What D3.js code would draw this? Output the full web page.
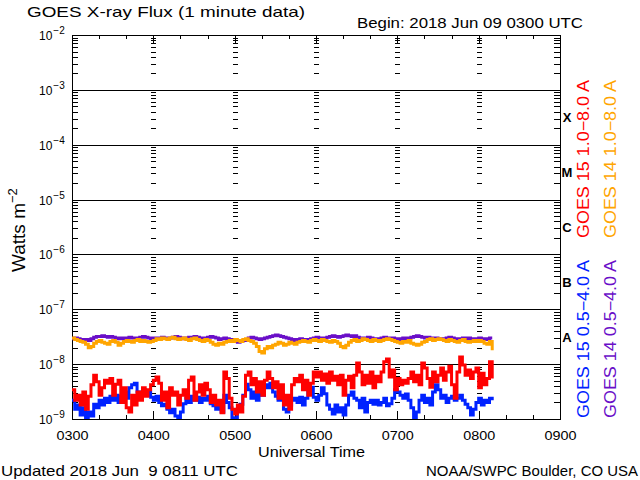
<!DOCTYPE html>
<html>
<head>
<meta charset="utf-8">
<script src="https://d3js.org/d3.v7.min.js"></script>
<style>
body { margin: 0; background: #fff; }
text { font-family: "Liberation Sans", sans-serif; fill: #000; }
</style>
</head>
<body>
<div id="chart"></div>
<script>
/* GOES X-ray flux, 1 minute data, 2018 Jun 09 */

// minutes after 0300 UTC (read every 2 minutes off the plot)
const minutes = d3.range(0, 312, 2);

// flux in units of 1e-9 W m^-2
const g15Long = [3.4, 2.2, 2.7, 1.8, 3.1, 1.5, 2.6, 4.2, 6.3, 4.8,
    2.7, 3.7, 5.1, 4.5, 5.5, 2.7, 4.3, 5.1, 2.0, 3.7,
    1.6, 1.34, 2.7, 1.8, 3.1, 2.2, 3.7, 2.6, 3.4, 4.2,
    5.1, 5.8, 4.5, 2.2, 3.1, 1.6, 3.7, 2.7, 3.1, 1.8,
    2.7, 3.4, 2.4, 5.1, 5.8, 2.2, 3.1, 4.2, 2.7, 4.5,
    3.4, 2.0, 2.7, 1.8, 2.2, 1.3, 7.2, 5.5, 2.4, 1.5,
    1.23, 1.8, 1.34, 2.6, 6.3, 7.2, 4.2, 5.5, 3.1, 4.8,
    2.7, 5.1, 7.2, 5.5, 3.7, 4.8, 2.4, 4.2, 1.8, 2.7,
    1.5, 4.2, 5.5, 4.8, 6.3, 3.4, 5.1, 2.7, 4.5, 7.2,
    5.8, 7.2, 5.1, 6.6, 4.5, 7.2, 5.1, 6.0, 4.2, 6.3,
    2.7, 5.1, 6.0, 3.7, 6.3, 10.5, 7.2, 4.2, 6.3, 4.5,
    7.2, 3.7, 6.0, 4.8, 7.2, 11, 12.4, 5.8, 7.8, 3.4,
    5.5, 4.2, 5.1, 4.5, 5.5, 7.2, 4.8, 6.3, 4.2, 10.5,
    8.5, 5.5, 3.8, 7.2, 4.8, 6.3, 8.5, 5.1, 7.2, 9.2,
    4.2, 2.4, 7.2, 13.5, 9.6, 6.3, 7.8, 5.5, 7.2, 8.5,
    3.7, 6.8, 4.2, 5.5, 11, 5.5];

const g15Short = [2.2, 1.5, 1.8, 1.18, 1.6, 1.05, 1.34, 1.13, 1.85, 1.6,
    2.2, 1.8, 2.4, 2.0, 2.6, 2.2, 2.7, 2.0, 2.6, 3.1,
    2.4, 3.7, 4.2, 4.5, 3.1, 2.6, 3.4, 2.7, 3.1, 2.5,
    2.2, 2.6, 2.0, 1.75, 1.85, 1.5, 1.3, 1.5, 1.13, 0.96,
    1.34, 1.9, 2.4, 2.0, 2.6, 2.2, 2.5, 2.0, 2.4, 2.2,
    2.6, 1.9, 1.75, 1.5, 1.8, 1.34, 2.7, 2.0, 1.6, 1.05,
    0.92, 1.5, 1.85, 2.7, 4.3, 3.4, 2.4, 3.1, 2.2, 3.4,
    2.7, 4.2, 3.7, 4.5, 3.1, 2.6, 2.2, 2.4, 1.5, 1.34,
    1.8, 2.2, 2.4, 2.0, 2.5, 1.8, 2.4, 3.4, 3.8, 2.5,
    2.2, 2.7, 3.7, 2.9, 1.8, 1.5, 1.23, 1.8, 1.34, 1.6,
    1.18, 1.8, 2.7, 3.1, 2.4, 2.2, 1.6, 2.4, 1.34, 2.0,
    2.2, 1.85, 2.2, 1.8, 2.0, 2.4, 1.75, 1.9, 2.4, 3.4,
    3.1, 2.7, 2.4, 2.85, 2.2, 1.6, 1.05, 1.34, 2.2, 2.7,
    2.0, 2.4, 1.8, 3.1, 4.2, 3.4, 2.4, 2.7, 2.0, 2.4,
    2.6, 2.2, 2.4, 2.7, 2.2, 1.85, 1.6, 1.18, 1.5, 2.0,
    2.4, 1.8, 2.2, 2.0, 2.4, 2.2];

const g14Long = [30, 28, 27, 26, 25, 23, 20, 21, 24, 26,
    27, 25, 24, 23, 26, 27, 25, 22, 24, 26,
    27, 26, 25, 27, 28, 26, 27, 26, 25, 26,
    27, 29, 28, 30, 29, 28, 30, 31, 29, 28,
    29, 30, 28, 27, 29, 30, 28, 27, 26, 28,
    27, 25, 23, 22, 24, 23, 25, 26, 27, 26,
    28, 27, 26, 28, 29, 27, 26, 24, 21, 17,
    16, 19, 21, 20, 22, 23, 25, 24, 22, 23,
    25, 24, 23, 25, 26, 27, 26, 25, 27, 28,
    27, 26, 28, 27, 26, 25, 27, 26, 24, 21,
    20, 22, 25, 27, 28, 26, 27, 29, 28, 27,
    26, 28, 27, 26, 27, 28, 29, 28, 27, 26,
    25, 24, 26, 25, 27, 24, 23, 22, 23, 25,
    26, 28, 29, 27, 28, 29, 28, 27, 26, 28,
    27, 26, 25, 27, 28, 26, 25, 26, 27, 26,
    27, 26, 24, 23, 26, 18];

const g14Short = [29, 30, 29, 28, 27, 28, 27, 29, 31, 32,
    32, 33, 32, 31, 32, 31, 30, 29, 30, 29,
    30, 31, 30, 29, 30, 31, 32, 31, 30, 29,
    30, 29, 30, 31, 30, 29, 30, 31, 32, 31,
    30, 29, 30, 31, 30, 32, 31, 30, 29, 30,
    31, 32, 31, 30, 28, 29, 30, 29, 28, 27,
    26, 25, 26, 27, 28, 30, 31, 30, 29, 28,
    29, 30, 31, 32, 33, 34, 33, 32, 31, 30,
    29, 28, 27, 28, 29, 28, 27, 28, 29, 30,
    31, 30, 29, 30, 31, 32, 33, 32, 31, 32,
    33, 34, 33, 32, 33, 31, 30, 29, 30, 31,
    30, 29, 28, 29, 30, 31, 30, 29, 30, 29,
    28, 29, 30, 29, 30, 31, 32, 33, 32, 31,
    30, 31, 30, 29, 30, 29, 28, 29, 30, 31,
    30, 29, 28, 29, 30, 29, 30, 29, 28, 29,
    30, 29, 28, 29, 30, 30];

const decades = [-9, -8, -7, -6, -5, -4, -3, -2];
const flareClasses = ["A", "B", "C", "M", "X"]; // 1e-8 .. 1e-4

const width = 640, height = 480,
    margin = ({top: 35, right: 80, bottom: 61, left: 72});

const t0 = Date.UTC(2018, 5, 9, 3, 0);

let svg = d3.select("#chart")
    .append("svg")
    .attr("width", width)
    .attr("height", height)
    .attr("viewBox", [0, 0, width, height]);

let x = d3.scaleUtc()
    .domain([new Date(t0), new Date(Date.UTC(2018, 5, 9, 9, 0))])
    .range([margin.left, width - margin.right]);

let y = d3.scaleLog()
    .domain([1e-9, 1e-2])
    .range([height - margin.bottom, margin.top]);

// minor log ticks 2..9 in each decade
let minorVals = [];
for (let e = -9; e < -2; e++) {
    for (let m = 2; m <= 9; m++) minorVals.push(m * Math.pow(10, e));
}

const axisStyle = g => g
    .attr("shape-rendering", "crispEdges")
    .call(g => g.selectAll("line").attr("stroke", "#000"))
    .call(g => g.select(".domain").attr("stroke", "#000"));

// decade grid lines
svg.append("g")
    .attr("transform", `translate(${margin.left},0)`)
    .call(d3.axisLeft(y).tickValues(decades.slice(1, -1).map(e => Math.pow(10, e)))
        .tickSize(-(width - margin.left - margin.right)).tickFormat(""))
    .call(g => g.select(".domain").remove())
    .call(axisStyle);

// left / right axes with inward minor ticks
svg.append("g")
    .attr("transform", `translate(${margin.left},0)`)
    .call(d3.axisLeft(y).tickValues(minorVals).tickSize(-6).tickSizeOuter(0).tickFormat(""))
    .call(axisStyle);

svg.append("g")
    .attr("transform", `translate(${width - margin.right},0)`)
    .call(d3.axisRight(y).tickValues(minorVals).tickSize(-6).tickSizeOuter(0).tickFormat(""))
    .call(axisStyle);

// small ticks along each interior hour
for (let h = 4; h <= 8; h++) {
    svg.append("g")
        .attr("transform", `translate(${x(new Date(t0 + (h - 3) * 3600e3)) - 2},0)`)
        .call(d3.axisRight(y).tickValues(minorVals).tickSize(5).tickFormat(""))
        .call(g => g.select(".domain").remove())
        .call(axisStyle);
}

// bottom and top time axes
svg.append("g")
    .attr("transform", `translate(0,${height - margin.bottom})`)
    .call(d3.axisBottom(x).ticks(d3.utcMinute.every(20)).tickSize(-4).tickSizeOuter(0).tickFormat(""))
    .call(axisStyle);

svg.append("g")
    .attr("transform", `translate(0,${height - margin.bottom})`)
    .call(d3.axisBottom(x).ticks(d3.utcHour.every(1)).tickSize(-8).tickSizeOuter(0)
        .tickPadding(12).tickFormat(d3.utcFormat("%H%M")))
    .call(axisStyle)
    .call(g => g.selectAll("text")
        .attr("font-family", "Liberation Sans, sans-serif")
        .attr("font-size", 13)
        .attr("textLength", 32)
        .attr("lengthAdjust", "spacingAndGlyphs"));

svg.append("g")
    .attr("transform", `translate(0,${margin.top})`)
    .call(d3.axisTop(x).ticks(d3.utcMinute.every(20)).tickSize(-4).tickSizeOuter(0).tickFormat(""))
    .call(axisStyle);

svg.append("g")
    .attr("transform", `translate(0,${margin.top})`)
    .call(d3.axisTop(x).ticks(d3.utcHour.every(1)).tickSize(-8).tickSizeOuter(0).tickFormat(""))
    .call(axisStyle);

// y tick labels 10^n
let yl = svg.append("g").selectAll("text")
    .data(decades)
    .join("text")
    .attr("x", 39)
    .attr("y", d => y(Math.pow(10, d)) + 5)
    .attr("font-size", 12);
yl.append("tspan").text("10");
yl.append("tspan").attr("dy", -6).attr("font-size", 10).attr("dx", 1).text(d => "−" + (-d));

// flare class letters
svg.append("g").selectAll("text")
    .data(flareClasses)
    .join("text")
    .attr("x", 567)
    .attr("y", (d, i) => y(Math.pow(10, -8 + i + 0.5)) + 5)
    .attr("text-anchor", "middle")
    .attr("font-family", "Liberation Serif, serif")
    .attr("font-weight", "bold")
    .attr("font-size", 13)
    .text(d => d);

// data lines
svg.append("clipPath").attr("id", "plot")
    .append("rect")
    .attr("x", margin.left).attr("y", margin.top)
    .attr("width", width - margin.left - margin.right)
    .attr("height", height - margin.top - margin.bottom);

const series = [
    {vals: g14Short, color: "#6a0fc8"},
    {vals: g14Long, color: "#ffa500"},
    {vals: g15Short, color: "#0022ff"},
    {vals: g15Long, color: "#ff0000"}
];

const line = d3.line()
    .curve(d3.curveStepAfter)
    .x((d, i) => x(new Date(t0 + minutes[i] * 60e3)))
    .y(d => y(d * 1e-9));

svg.append("g")
    .attr("clip-path", "url(#plot)")
    .selectAll("path")
    .data(series)
    .join("path")
    .attr("fill", "none")
    .attr("stroke", d => d.color)
    .attr("stroke-width", 3)
    .attr("d", d => line(d.vals));

// titles and labels
const label = (txt, xPos, yPos, size, len, anchor) => svg.append("text")
    .attr("x", xPos).attr("y", yPos)
    .attr("font-size", size)
    .attr("text-anchor", anchor || "start")
    .attr("textLength", len)
    .attr("lengthAdjust", "spacingAndGlyphs")
    .style("white-space", "pre")
    .text(txt);

label("GOES X-ray Flux (1 minute data)", 27, 17, 15, 278);
label("Begin: 2018 Jun 09 0300 UTC", 357, 28, 15, 226);
label("Universal Time", 258, 457, 14, 107);
label("Updated 2018 Jun  9 0811 UTC", 1, 476, 15, 237);
label("NOAA/SWPC Boulder, CO USA", 426, 476, 15, 212);

// y axis title, rotated
let yt = svg.append("text")
    .attr("transform", "translate(25,272) rotate(-90)")
    .attr("font-size", 19);
yt.append("tspan").text("Watts m");
yt.append("tspan").attr("dy", -8).attr("font-size", 13).text("−2");

// rotated legend labels
const legend = [
    {txt: "GOES 15 1.0−8.0 A", color: "#ff0000", x: 589, y: 238},
    {txt: "GOES 14 1.0−8.0 A", color: "#ffa500", x: 616, y: 238},
    {txt: "GOES 15 0.5−4.0 A", color: "#0022ff", x: 589, y: 418},
    {txt: "GOES 14 0.5−4.0 A", color: "#6a0fc8", x: 616, y: 418}
];

svg.append("g").selectAll("text")
    .data(legend)
    .join("text")
    .attr("transform", d => `translate(${d.x},${d.y}) rotate(-90)`)
    .attr("font-size", 16)
    .attr("textLength", 158)
    .attr("lengthAdjust", "spacingAndGlyphs")
    .style("fill", d => d.color)
    .text(d => d.txt);
</script>
</body>
</html>
